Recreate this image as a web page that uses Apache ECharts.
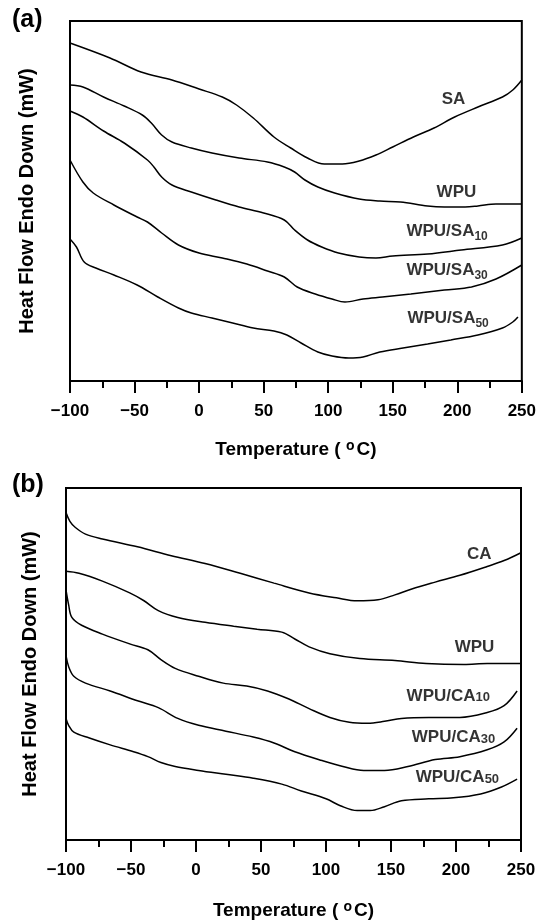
<!DOCTYPE html>
<html>
<head>
<meta charset="utf-8">
<script src="https://cdn.jsdelivr.net/npm/echarts@6/dist/echarts.min.js"></script>
<style>
html,body{margin:0;padding:0;background:#fff;}
#chart{width:539px;height:923px;}
</style>
</head>
<body>
<div id="chart"></div>
<script>
// ---- Data (temperature °C, heat flow in arbitrary units) ----
const xTicks = { min: -100, max: 250, interval: 50 };

// Panel (a)
const curveSA = [[-100,338],[-69,323],[-45,309],[-21,301],[0,292],[18,284],[29,276],[42,263],[58,244],[71,233],[84,223],[97,217],[111,217],[124,220],[137,226],[150,234],[166,244],[182,253],[198,264],[216,274],[235,284],[243,291],[250,301]];
const curveWPUa = [[-100,296],[-90,294],[-74,284],[-58,275],[-44,266],[-37,258],[-29,246],[-21,239],[-6,233],[10,228],[31,223],[53,219],[66,214],[74,209],[82,201],[92,194],[105,188],[124,182],[140,180],[156,179],[177,175],[190,174],[206,174],[216,175],[230,177],[250,177]];
const curveWPUSA10 = [[-100,270],[-90,264],[-74,250],[-58,238],[-40,221],[-35,214],[-29,204],[-21,196],[-6,189],[13,181],[31,174],[50,168],[66,161],[74,151],[84,141],[95,134],[108,128],[124,124],[137,123],[150,125],[177,127],[203,131],[235,136],[250,143]];
const curveWPUSA30 = [[-100,221],[-90,199],[-82,188],[-66,176],[-48,164],[-40,159],[-29,148],[-16,136],[0,128],[18,123],[37,117],[53,110],[66,104],[76,94],[90,87],[103,82],[113,79],[127,82],[142,84],[164,87],[190,91],[211,94],[230,102],[250,116]];
const curveWPUSA50 = [[-100,142],[-95,134],[-89,119],[-80,113],[-66,106],[-48,96],[-32,84],[-16,73],[-6,68],[10,63],[26,58],[42,53],[58,50],[68,46],[79,38],[92,29],[103,25],[116,23],[127,24],[140,29],[158,33],[177,37],[195,41],[216,46],[235,53],[243,59],[247,64]];

// Panel (b)
const curveCA = [[-100,334],[-97,325],[-93,319],[-85,312],[-72,307],[-45,299],[-19,290],[7,282],[34,272],[60,262],[87,252],[108,247],[124,244],[140,245],[153,250],[166,256],[184,263],[203,270],[224,279],[237,285],[250,293]];
const curveWPUb = [[-100,274],[-90,272],[-72,264],[-51,252],[-40,244],[-29,234],[-14,227],[7,222],[29,218],[47,215],[66,212],[76,205],[87,197],[103,190],[126,185],[153,183],[177,180],[206,179],[224,180],[250,180]];
const curveWPUCA10 = [[-100,255],[-98,240],[-95.5,227],[-88,219],[-72,210],[-51,200],[-37,194],[-27,184],[-16,175],[2,167],[21,160],[39,157],[55,152],[71,144],[87,134],[103,125],[118,120],[132,119],[145,121],[158,124],[179,125],[203,125],[224,130],[237,137],[247,152]];
const curveWPUCA30 = [[-100,188],[-98,177],[-94,167],[-85,160],[-66,152],[-45,142],[-29,135],[-14,124],[2,117],[23,111],[44,105],[60,99],[76,90],[97,81],[113,75],[129,71],[145,71],[163,75],[184,82],[203,85],[224,92],[237,100],[247,114]];
const curveWPUCA50 = [[-100,124],[-98,117],[-94,110],[-82,104],[-66,97],[-48,90],[-37,85],[-27,79],[-16,75],[2,71],[23,67],[44,63],[66,57],[81,50],[100,42],[111,35],[124,30],[134,30],[145,34],[158,40],[179,42],[198,43],[219,47],[235,54],[247,62]];

// Curve labels: [temperature, value, text]
const labelsA = [[188,282,'SA'],[184,189,'WPU'],[160.6,150,'WPU/SA{s|10}'],[160.6,111,'WPU/SA{s|30}'],[161.4,63,'WPU/SA{s|50}']];
const labelsB = [[208.5,291,'CA'],[199,197,'WPU'],[162,147,'WPU/CA{b|10}'],[166,105,'WPU/CA{b|30}'],[169,64,'WPU/CA{b|50}']];

const yTitle = 'Heat Flow Endo Down (mW)';
const xTitle = 'Temperature ( {o|o}C)';

// ---- Chart ----
const FONT = '"Liberation Sans", Arial, sans-serif';
const chart = echarts.init(document.getElementById('chart'), null, {renderer:'canvas'});

const grids = [
  {left:70, top:21, width:454, height:360},
  {left:66, top:488, width:455, height:359}
];

function xAxis(gi, gap){
  return {
    gridIndex: gi, type:'value', min:xTicks.min, max:xTicks.max, interval:xTicks.interval,
    axisLine:{show:true, onZero:false, lineStyle:{color:'#000', width:2}},
    axisTick:{show:true, inside:false, length:12, lineStyle:{color:'#000', width:2}},
    minorTick:{show:true, splitNumber:2, length:7, lineStyle:{color:'#000', width:2}},
    splitLine:{show:false},
    axisLabel:{margin:22, color:'#000', fontFamily:FONT, fontWeight:'bold', fontSize:17,
      formatter: v => String(v).replace('-', '\u2212')},
    name: xTitle, nameLocation:'middle', nameGap:gap,
    nameTextStyle:{color:'#000', fontFamily:FONT, fontWeight:'bold', fontSize:19, lineHeight:22,
      rich:{o:{fontFamily:FONT, fontSize:14, lineHeight:14, verticalAlign:'top', color:'#000', padding:[0,2,0,0]}}}
  };
}
function yAxis(gi, max, gap){
  return {
    gridIndex: gi, type:'value', min:0, max:max,
    axisLine:{show:true, onZero:false, lineStyle:{color:'#000', width:2}},
    axisTick:{show:false}, axisLabel:{show:false}, splitLine:{show:false},
    name: yTitle, nameLocation:'middle', nameGap:gap, nameRotate:90,
    nameTextStyle:{color:'#000', fontFamily:FONT, fontWeight:'bold', fontSize:20}
  };
}
function lineSeries(data, gi){
  return {type:'line', xAxisIndex:gi, yAxisIndex:gi, data:data, smooth:0.35, symbol:'none',
    lineStyle:{color:'#000', width:1.5}, silent:true};
}
function labelSeries(data, gi){
  return {type:'scatter', xAxisIndex:gi, yAxisIndex:gi, symbolSize:0, silent:true,
    data: data.map(d => ({value:[d[0], d[1]], name:d[2]})),
    label:{show:true, position:[0,0], align:'left', verticalAlign:'middle',
      formatter: p => p.name, color:'#000', fontFamily:FONT, fontWeight:'bold', fontSize:17, lineHeight:17,
      rich:{
        s:{fontFamily:FONT, fontWeight:'bold', fontSize:12, lineHeight:12, color:'#000', verticalAlign:'top', padding:[8,0,0,0]},
        b:{fontFamily:FONT, fontWeight:'bold', fontSize:13, lineHeight:13, color:'#000', verticalAlign:'bottom'}
      }}
  };
}

const option = {
  backgroundColor:'#fff',
  animation:false,
  grid: grids.map(g => Object.assign({show:true, borderColor:'#000', borderWidth:2, backgroundColor:'transparent'}, g)),
  xAxis:[xAxis(0, 58), xAxis(1, 60)],
  yAxis:[yAxis(0, 360, 33), yAxis(1, 359, 26)],
  series:[
    lineSeries(curveSA,0), lineSeries(curveWPUa,0), lineSeries(curveWPUSA10,0), lineSeries(curveWPUSA30,0), lineSeries(curveWPUSA50,0),
    lineSeries(curveCA,1), lineSeries(curveWPUb,1), lineSeries(curveWPUCA10,1), lineSeries(curveWPUCA30,1), lineSeries(curveWPUCA50,1),
    labelSeries(labelsA,0), labelSeries(labelsB,1)
  ],
  graphic:[
    {type:'text', left:12, top:8, style:{text:'(a)', fontFamily:FONT, fontWeight:'bold', fontSize:25, fill:'#000'}},
    {type:'text', left:12, top:473, style:{text:'(b)', fontFamily:FONT, fontWeight:'bold', fontSize:25, fill:'#000'}}
  ]
};
chart.setOption(option);
</script>
</body>
</html>
